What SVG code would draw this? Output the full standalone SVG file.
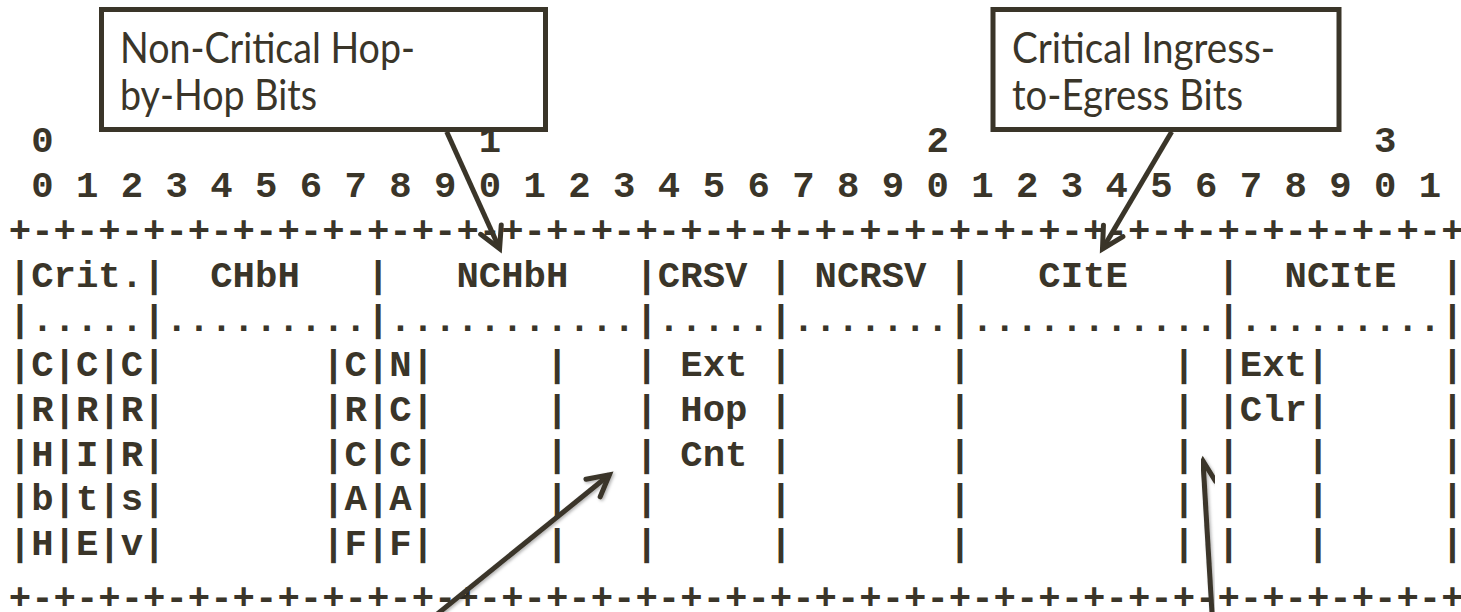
<svg xmlns="http://www.w3.org/2000/svg" width="1461" height="612" viewBox="0 0 1461 612">
<style>
.mono{font-family:"Liberation Mono","Courier New",monospace;font-weight:bold;font-size:37.3px;fill:#3a3529;white-space:pre}
.call{font-family:Lato,"Open Sans",sans-serif;font-size:42px;fill:#3a3529}
.box{fill:#ffffff;stroke:#3a3529;stroke-width:5}
.arr{fill:none;stroke:#3a3529;stroke-width:5;marker-end:url(#head)}
.sh{filter:url(#shadow)}
</style>
<defs>
<marker id="head" markerUnits="userSpaceOnUse" viewBox="-26 -16 40 32" markerWidth="40" markerHeight="32" refX="0" refY="0" orient="auto" overflow="visible">
<path d="M-21,-11.3 L0,0 L-21,11.3" fill="none" stroke="#3a3529" stroke-width="5" stroke-linejoin="miter" stroke-linecap="round"/>
</marker>
<filter id="shadow" x="-20%" y="-20%" width="140%" height="140%">
<feDropShadow dx="1.5" dy="1.5" stdDeviation="1.5" flood-color="#000" flood-opacity="0.3"/>
</filter>
</defs>
<rect width="1461" height="612" fill="#ffffff"/>
<g id="bitmap" xml:space="preserve">
<text class="mono" x="8.8" y="152"> 0                   1                   2                   3</text>
<text class="mono" x="8.8" y="196.8"> 0 1 2 3 4 5 6 7 8 9 0 1 2 3 4 5 6 7 8 9 0 1 2 3 4 5 6 7 8 9 0 1</text>
<text class="mono" x="8.8" y="241.6">+-+-+-+-+-+-+-+-+-+-+-+-+-+-+-+-+-+-+-+-+-+-+-+-+-+-+-+-+-+-+-+-+</text>
<text class="mono" x="8.8" y="287.4">|Crit.|  CHbH   |   NCHbH   |CRSV | NCRSV |   CItE    |  NCItE  |</text>
<text class="mono" x="8.8" y="331.2">|.....|.........|...........|.....|.......|...........|.........|</text>
<text class="mono" x="8.8" y="376">|C|C|C|       |C|N|     |   | Ext |       |         | |Ext|     |</text>
<text class="mono" x="8.8" y="420.8">|R|R|R|       |R|C|     |   | Hop |       |         | |Clr|     |</text>
<text class="mono" x="8.8" y="465.6">|H|I|R|       |C|C|     |   | Cnt |       |         | |   |     |</text>
<text class="mono" x="8.8" y="510.4">|b|t|s|       |A|A|     |   |     |       |         | |   |     |</text>
<text class="mono" x="8.8" y="555.2">|H|E|v|       |F|F|     |   |     |       |         | |   |     |</text>
<text class="mono" x="8.8" y="609">+-+-+-+-+-+-+-+-+-+-+-+-+-+-+-+-+-+-+-+-+-+-+-+-+-+-+-+-+-+-+-+-+</text>
</g>
<g id="callout-nchbh">
<rect class="box" x="101.5" y="9.5" width="444" height="120"/>
<text class="call" x="120" y="63" textLength="295" lengthAdjust="spacingAndGlyphs">Non-Critical Hop-</text>
<text class="call" x="120" y="110" textLength="197" lengthAdjust="spacingAndGlyphs">by-Hop Bits</text>
</g>
<g id="callout-cite">
<rect class="box" x="993" y="9.5" width="346" height="120"/>
<text class="call" x="1012" y="63" textLength="263" lengthAdjust="spacingAndGlyphs">Critical Ingress-</text>
<text class="call" x="1012" y="110" textLength="231" lengthAdjust="spacingAndGlyphs">to-Egress Bits</text>
</g>
<g id="connectors">
<path class="arr" d="M446.7,131.7 L499.6,248.8"/>
<path class="arr" d="M1171.7,131.7 L1102.5,249"/>
<path class="arr sh" d="M420,628 L609.4,474.8"/>
<path class="arr sh" d="M1213,630 L1203,461"/>
</g>
</svg>
